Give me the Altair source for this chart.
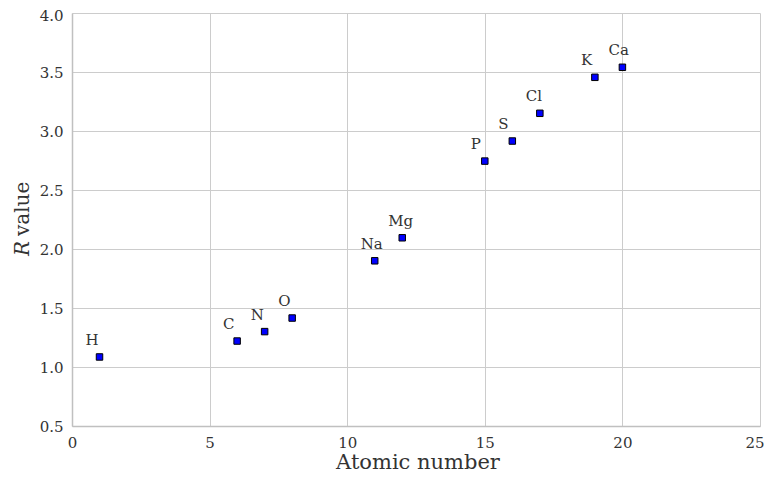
import altair as alt
import pandas as pd

elements = ["H", "C", "N", "O", "Na", "Mg", "P", "S", "Cl", "K", "Ca"]
atomic_number = [1, 6, 7, 8, 11, 12, 15, 16, 17, 19, 20]
r_value = [1.085, 1.22, 1.30, 1.415, 1.90, 2.095, 2.745, 2.915, 3.15, 3.455, 3.54]

x_ticks = [0, 5, 10, 15, 20, 25]
y_ticks = [0.5, 1.0, 1.5, 2.0, 2.5, 3.0, 3.5, 4.0]

df = pd.DataFrame({"el": elements, "z": atomic_number, "r": r_value})

FONT = "DejaVu Serif"
W, H = 688, 413
GREY = "#333333"

x = alt.X("z:Q", scale=alt.Scale(domain=[0, 25], nice=False),
          axis=alt.Axis(title=None, values=x_ticks, format="d",
                        labelAlign=alt.ExprRef(expr="datum.value == 25 ? 'right' : 'center'"),
                        labelOffset=alt.ExprRef(expr="datum.value == 25 ? 4 : 0")))
y = alt.Y("r:Q", scale=alt.Scale(domain=[0.5, 4.0], nice=False, zero=False),
          axis=alt.Axis(title=None, values=y_ticks, format=".1f",
                        labelOffset=alt.ExprRef(expr="datum.value == 4 ? 2 : 0")))

pts = alt.Chart(df).mark_square(size=42, color="#0000ff", stroke="#000000",
                                strokeWidth=1, opacity=1).encode(x=x, y=y)
labels = alt.Chart(df).mark_text(font=FONT, fontSize=15, color=GREY, align="left",
                                 baseline="alphabetic", dx=-14, dy=-12).encode(
    x="z:Q", y="r:Q", text="el:N")

title_df = pd.DataFrame({"t": ["Atomic number"]})
xtitle = alt.Chart(title_df).mark_text(font=FONT, fontSize=21, color=GREY, align="center",
                                       baseline="alphabetic").encode(
    x=alt.value(418 - 72), y=alt.value(469 - 13), text="t:N")

r_df = pd.DataFrame({"t": ["R"]})
v_df = pd.DataFrame({"t": ["value"]})
ytitle_r = alt.Chart(r_df).mark_text(font=FONT, fontSize=20, fontStyle="italic", color=GREY,
                                     align="left", baseline="alphabetic", angle=270).encode(
    x=alt.value(29 - 72), y=alt.value(256 - 13), text="t:N")
ytitle_v = alt.Chart(v_df).mark_text(font=FONT, fontSize=20, color=GREY,
                                     align="left", baseline="alphabetic", angle=270).encode(
    x=alt.value(29 - 72), y=alt.value(236 - 13), text="t:N")

chart = (pts + labels + xtitle + ytitle_r + ytitle_v).properties(
    width=W, height=H,
    autosize=alt.AutoSizeParams(type="none"),
    padding={"left": 64, "top": 5, "right": 4, "bottom": 49},
).configure(font=FONT).configure_view(stroke=None).configure_axis(
    labelFont=FONT, labelFontSize=15, labelColor=GREY,
    gridColor="#cccccc", domainColor="#c0c0c0", domainWidth=1.5, ticks=False,
    labelPadding=9, labelFlush=False,
)

chart.save("out.html", embed_options={"renderer": "svg", "actions": False})
